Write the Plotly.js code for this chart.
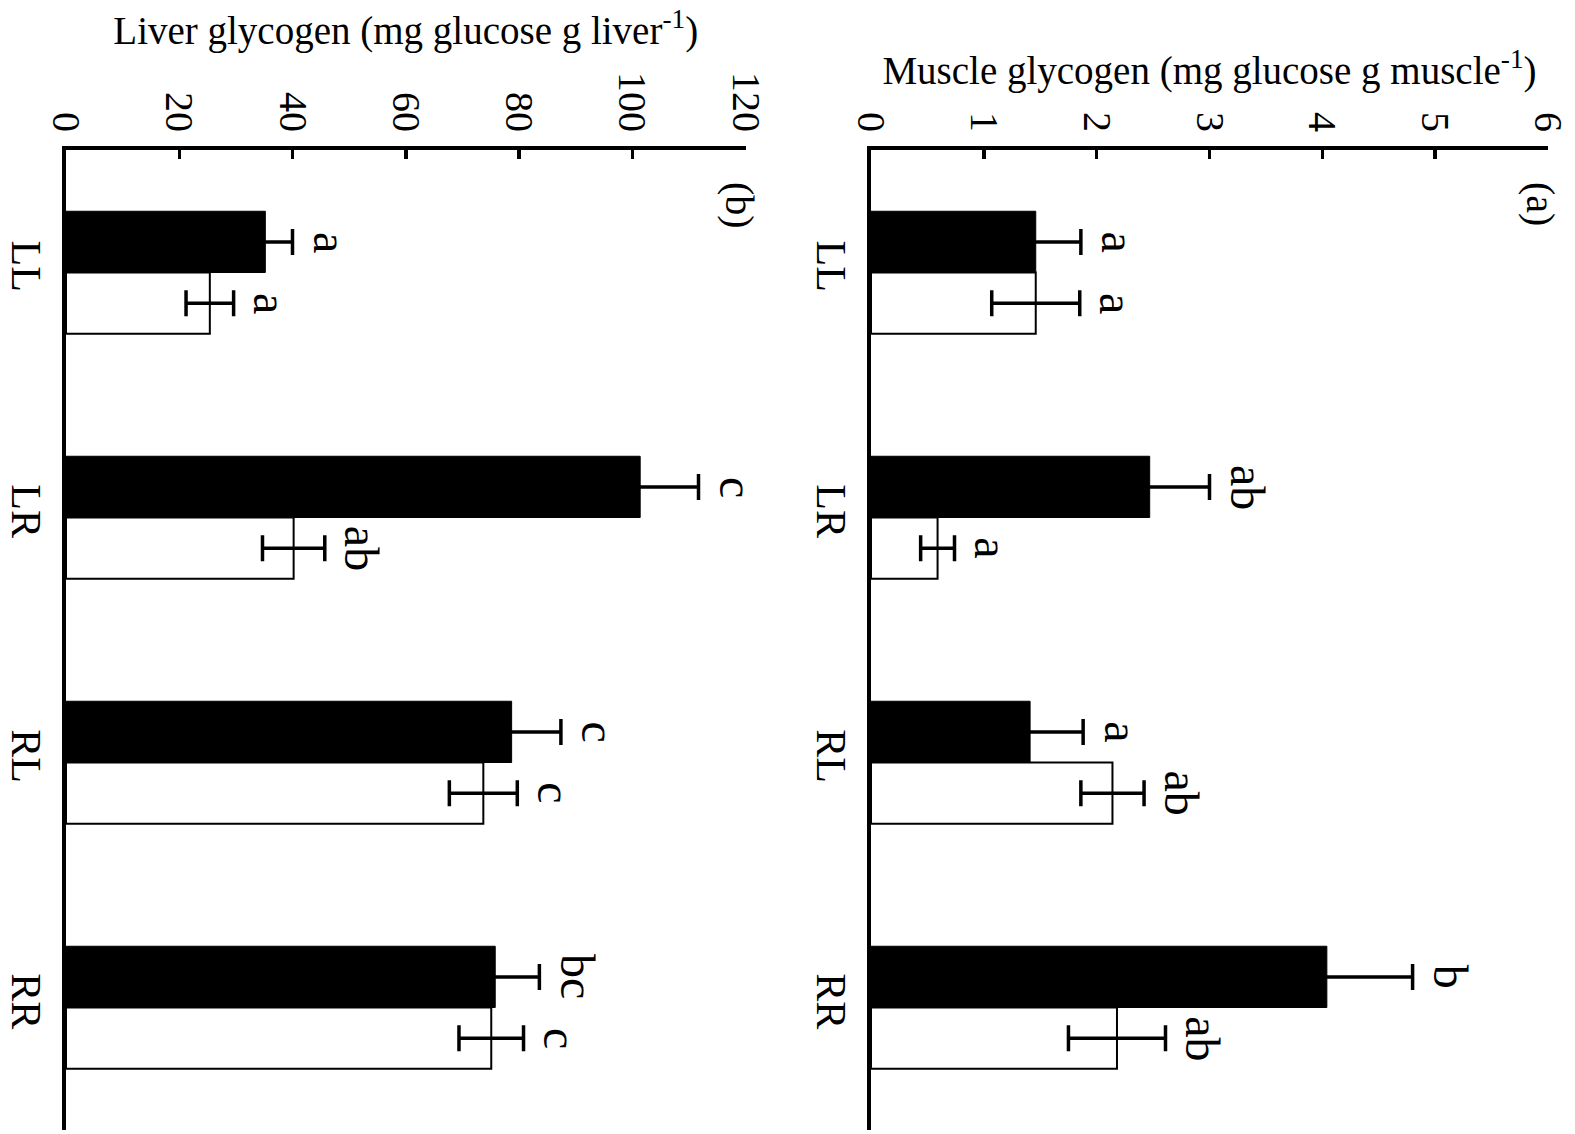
<!DOCTYPE html>
<html>
<head>
<meta charset="utf-8">
<script src="https://cdn.plot.ly/plotly-3.0.1.min.js"></script>
<style>html,body{margin:0;padding:0;background:#fff;}</style>
</head>
<body>
<div id="chart" style="width:1575px;height:1134px;"></div>
<script>
const categories = ['LL', 'LR', 'RL', 'RR'];

const liverBlack = [35.2, 101.4, 78.7, 75.8];
const liverBlackErr = [4.8, 10.3, 8.7, 7.8];
const liverWhite = [25.4, 40.2, 73.7, 75.1];
const liverWhiteErr = [4.2, 5.5, 6.0, 5.7];
const liverBlackLetters = ['a', 'c', 'c', 'bc'];
const liverWhiteLetters = ['a', 'ab', 'c', 'c'];

const muscleBlack = [1.46, 2.47, 1.41, 4.04];
const muscleBlackErr = [0.40, 0.53, 0.47, 0.76];
const muscleWhite = [1.46, 0.59, 2.14, 2.18];
const muscleWhiteErr = [0.39, 0.15, 0.28, 0.43];
const muscleBlackLetters = ['a', 'ab', 'a', 'b'];
const muscleWhiteLetters = ['a', 'a', 'ab', 'ab'];

const liverTicks = [0, 20, 40, 60, 80, 100, 120];
const muscleTicks = [0, 1, 2, 3, 4, 5, 6];

const FONT = 'Liberation Serif, Times New Roman, serif';

function barTrace(vals, errs, fill, lw, xa, ya) {
  return {
    type: 'bar', orientation: 'h', y: categories, x: vals,
    xaxis: xa, yaxis: ya,
    marker: {color: fill, line: {color: 'black', width: lw}},
    error_x: {type: 'data', array: errs, visible: true, color: 'black', thickness: 3.5, width: 13},
    hoverinfo: 'skip'
  };
}

const data = [
  barTrace(liverBlack, liverBlackErr, 'black', 1, 'x', 'y'),
  barTrace(liverWhite, liverWhiteErr, 'white', 2, 'x', 'y'),
  barTrace(muscleBlack, muscleBlackErr, 'black', 1, 'x2', 'y2'),
  barTrace(muscleWhite, muscleWhiteErr, 'white', 2, 'x2', 'y2')
];

const annotations = [];
function addLetters(vals, errs, letters, offset, xr, yr) {
  for (let i = 0; i < categories.length; i++) {
    annotations.push({
      xref: xr, yref: yr, x: vals[i] + errs[i], y: i + offset,
      text: letters[i], textangle: 90, showarrow: false,
      xanchor: 'left', yanchor: 'middle', xshift: 9,
      font: {family: FONT, size: 48, color: 'black'}
    });
  }
}
addLetters(liverBlack, liverBlackErr, liverBlackLetters, -0.125, 'x', 'y');
addLetters(liverWhite, liverWhiteErr, liverWhiteLetters, 0.125, 'x', 'y');
addLetters(muscleBlack, muscleBlackErr, muscleBlackLetters, -0.125, 'x2', 'y2');
addLetters(muscleWhite, muscleWhiteErr, muscleWhiteLetters, 0.125, 'x2', 'y2');

annotations.push({xref: 'x domain', yref: 'y domain', x: 1, y: 1, xanchor: 'center', yanchor: 'top',
  xshift: -6, yshift: -30, text: '(b)', textangle: 90, showarrow: false,
  font: {family: FONT, size: 40, color: 'black'}});
annotations.push({xref: 'x2 domain', yref: 'y2 domain', x: 1, y: 1, xanchor: 'center', yanchor: 'top',
  xshift: -7, yshift: -30, text: '(a)', textangle: 90, showarrow: false,
  font: {family: FONT, size: 40, color: 'black'}});

function xAxis(domain, range, ticks, title, anchor, standoff) {
  return {
    domain: domain, anchor: anchor, side: 'top', range: range,
    tickmode: 'array', tickvals: ticks, ticktext: ticks.map(String),
    ticks: 'inside', ticklen: 9, tickwidth: 3.5, tickcolor: 'black',
    showline: true, linewidth: 4, linecolor: 'black',
    showgrid: false, zeroline: false, tickangle: 90,
    tickfont: {family: FONT, size: 40, color: 'black'},
    title: {text: title, font: {family: FONT, size: 39, color: 'black'}, standoff: standoff},
    fixedrange: true
  };
}
function yAxis(anchor) {
  return {
    domain: [0, 1], anchor: anchor, type: 'category', range: [3.5, -0.5],
    showline: true, linewidth: 4, linecolor: 'black', ticks: '',
    showgrid: false, zeroline: false, tickangle: 90,
    tickfont: {family: FONT, size: 42, color: 'black'},
    fixedrange: true
  };
}

const layout = {
  width: 1575, height: 1134,
  margin: {l: 0, r: 0, t: 150, b: 4},
  paper_bgcolor: 'white', plot_bgcolor: 'white',
  font: {family: FONT, color: 'black'},
  barmode: 'group', bargap: 0.5, bargroupgap: 0,
  showlegend: false,
  xaxis: xAxis([66 / 1575, 745.5 / 1575], [0, 120], liverTicks,
    'Liver glycogen (mg glucose g liver<sup>-1</sup>)', 'y', 16),
  yaxis: yAxis('x'),
  xaxis2: xAxis([871 / 1575, 1548 / 1575], [0, 6], muscleTicks,
    'Muscle glycogen (mg glucose g muscle<sup>-1</sup>)', 'y2', 16),
  yaxis2: yAxis('x2'),
  annotations: annotations
};

Plotly.newPlot('chart', data, layout, {displayModeBar: false, staticPlot: true});
</script>
</body>
</html>
